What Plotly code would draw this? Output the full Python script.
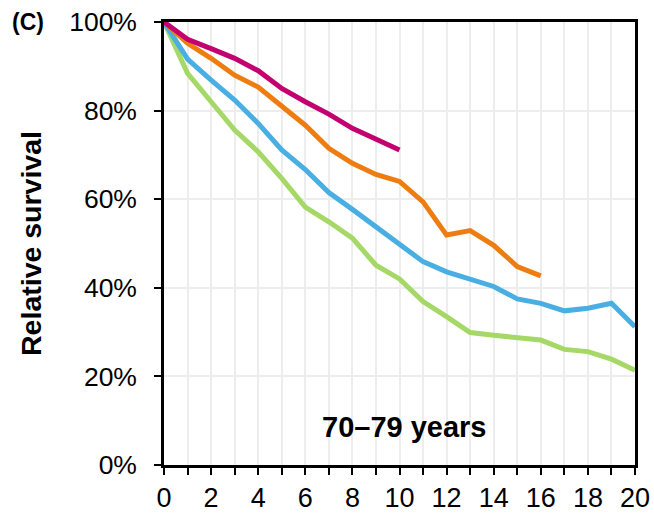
import plotly.graph_objects as go

years_magenta = list(range(0, 11))
magenta = [100, 96.1, 94.0, 91.8, 89.0, 85.0, 82.0, 79.2, 76.0, 73.4, 71.1]

years_orange = list(range(0, 17))
orange = [100, 95.2, 91.8, 88.0, 85.3, 81.0, 76.7, 71.5, 68.1, 65.6, 64.0,
          59.4, 51.9, 52.9, 49.6, 44.8, 42.7]

years_blue = list(range(0, 21))
blue = [100, 91.6, 86.9, 82.4, 77.1, 71.1, 66.7, 61.5, 57.7, 53.8, 49.7,
        45.9, 43.6, 41.9, 40.3, 37.5, 36.5, 34.8, 35.4, 36.5, 31.2]

years_green = list(range(0, 21))
green = [100, 88.4, 82.0, 75.6, 70.7, 64.7, 58.2, 54.9, 51.2, 45.1, 42.0,
         36.9, 33.5, 29.9, 29.3, 28.7, 28.2, 26.1, 25.6, 23.9, 21.4]

x_ticks = list(range(0, 21, 2))
y_ticks = [0, 20, 40, 60, 80, 100]
y_tick_labels = [f"{v}%" for v in y_ticks]

FONT = "Liberation Sans, Arial, sans-serif"

W, H = 654, 516
ML, MR, MT, MB = 164, 19, 22, 51

fig = go.Figure()
series = [
    (years_green, green, "#A5D867"),
    (years_blue, blue, "#49AEE2"),
    (years_orange, orange, "#EE7D11"),
    (years_magenta, magenta, "#C3006F"),
]
for xs, ys, c in series:
    fig.add_trace(go.Scatter(x=xs, y=ys, mode="lines",
                             line=dict(color=c, width=5), showlegend=False))

fig.update_layout(
    width=W, height=H,
    margin=dict(l=ML, r=MR, t=MT, b=MB, autoexpand=False),
    paper_bgcolor="white", plot_bgcolor="white",
    font=dict(family=FONT, color="black"),
    xaxis=dict(
        range=[0, 20], tickvals=x_ticks, ticktext=[str(v) for v in x_ticks],
        ticks="outside", ticklen=7, tickwidth=2, tickcolor="black",
        showline=True, linecolor="black", linewidth=2.5, mirror=True,
        showgrid=True, gridcolor="#EDEDED", gridwidth=1.5,
        minor=dict(dtick=1, ticks="outside", ticklen=7, tickwidth=2,
                   tickcolor="black", showgrid=True, gridcolor="#EDEDED", gridwidth=1.5),
        tickfont=dict(size=27, family=FONT), zeroline=False, automargin=False,
        ticklabeloverflow="allow",
    ),
    yaxis=dict(
        range=[0, 100], tickvals=y_ticks, ticktext=y_tick_labels,
        ticks="outside", ticklen=7, tickwidth=2, tickcolor="black",
        showline=True, linecolor="black", linewidth=2.5, mirror=True,
        showgrid=True, gridcolor="#EDEDED", gridwidth=1.5,
        tickfont=dict(size=26.5, family=FONT), zeroline=False, automargin=False,
        ticklabelstandoff=12, ticklabeloverflow="allow",
        title=dict(text="<b>Relative survival</b>", font=dict(size=28.5, family=FONT), standoff=20),
    ),
    annotations=[
        dict(text="<b>70–79 years</b>", x=10.2, y=8.6, xref="x", yref="y",
             showarrow=False, font=dict(size=29, family=FONT)),
        dict(text="<b>(C)</b>", x=(10 - ML) / (W - ML - MR), y=(H - MB - 22) / (H - MT - MB),
             xref="paper", yref="paper", xanchor="left", yanchor="middle",
             showarrow=False, font=dict(size=23, family=FONT)),
    ],
)
fig.write_html(
    "out.html",
    config={"displayModeBar": False},
    post_script="document.body.style.margin='0';document.body.style.overflow='hidden';",
)
